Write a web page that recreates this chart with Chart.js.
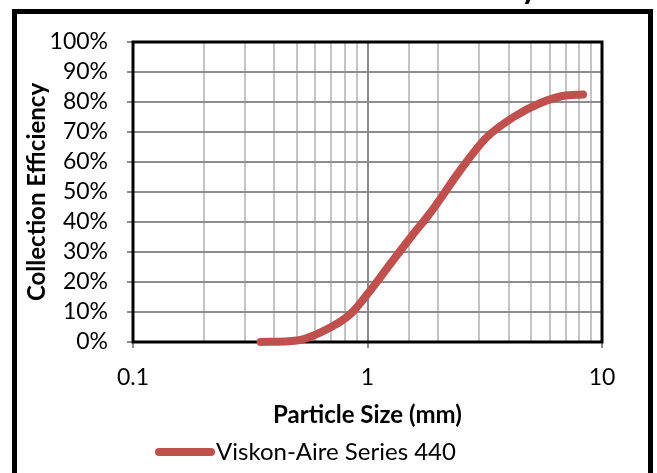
<!DOCTYPE html>
<html>
<head>
<meta charset="utf-8">
<script src="https://cdn.jsdelivr.net/npm/chart.js@4.4.1/dist/chart.umd.min.js"></script>
<style>
  html, body { margin: 0; padding: 0; background: #fff; overflow: hidden; }
  #wrap { position: relative; width: 657px; height: 473px; }
  #frame {
    position: absolute; left: 12px; top: 9px; width: 641px; height: 520px;
    box-sizing: border-box; border: 5px solid #000; pointer-events: none;
  }
</style>
</head>
<body>
<div id="wrap">
  <canvas id="chart" width="657" height="473"></canvas>
  <div id="frame"></div>
</div>
<script>
// --- data ---
const sizes = [0.35, 0.5, 0.7, 0.85, 1.0, 1.25, 1.55, 1.85, 2.5, 3.2, 4.2, 5.4, 6.8, 8.3];
const efficiency = [0, 0.5, 5, 9.5, 16, 26, 35.5, 43, 57.5, 68, 75, 79.5, 82, 82.5];
const seriesLabel = 'Viskon-Aire Series 440';
const chartTitle = 'Collection Efficiency';
const xTitle = 'Particle Size (mm)';
const yTitle = 'Collection Efficiency';

const FONT = 'Lato, "Open Sans", sans-serif';
const RED = '#c0504d';

const isDecade = (v) => Math.abs(Math.log10(v) - Math.round(Math.log10(v))) < 1e-6;

// --- frame, cut-off title, legend ---
const decorPlugin = {
  id: 'decor',
  beforeDatasetsDraw(chart) {
    const { ctx, chartArea: a } = chart;
    ctx.save();
    ctx.strokeStyle = '#000';
    ctx.lineWidth = 3;
    ctx.strokeRect(a.left, a.top, a.right - a.left, a.bottom - a.top);
    ctx.restore();
  },
  afterDraw(chart) {
    const { ctx } = chart;
    ctx.save();
    // title sits mostly above the visible area
    ctx.fillStyle = '#000';
    ctx.font = 'bold 32px ' + FONT;
    ctx.textAlign = 'right';
    ctx.textBaseline = 'alphabetic';
    ctx.fillText(chartTitle, 538, -1);

    // legend
    const ly = 452;
    ctx.strokeStyle = RED;
    ctx.lineWidth = 8;
    ctx.lineCap = 'round';
    ctx.beginPath();
    ctx.moveTo(159, ly);
    ctx.lineTo(211, ly);
    ctx.stroke();
    ctx.font = '24px ' + FONT;
    ctx.textAlign = 'left';
    ctx.textBaseline = 'middle';
    ctx.fillText(seriesLabel, 216, ly);
    ctx.restore();
  }
};

new Chart(document.getElementById('chart'), {
  type: 'scatter',
  data: {
    datasets: [{
      label: seriesLabel,
      data: sizes.map((x, i) => ({ x, y: efficiency[i] })),
      showLine: true,
      borderColor: RED,
      backgroundColor: RED,
      borderWidth: 8,
      borderCapStyle: 'round',
      borderJoinStyle: 'round',
      cubicInterpolationMode: 'monotone',
      pointRadius: 0,
      clip: false
    }]
  },
  options: {
    responsive: false,
    animation: false,
    layout: { padding: { left: 0, right: 55, top: 42, bottom: 41 } },
    plugins: {
      legend: { display: false },
      tooltip: { enabled: false }
    },
    scales: {
      x: {
        type: 'logarithmic',
        min: 0.1,
        max: 10,
        afterFit: (s) => { s.height = 90; },
        border: { display: false },
        grid: {
          color: (c) => (c.tick && isDecade(c.tick.value) ? '#8c8c8c' : '#c4c4c4'),
          lineWidth: 2,
          tickLength: 6,
          tickColor: (c) => (c.tick && isDecade(c.tick.value) ? '#8c8c8c' : 'rgba(0,0,0,0)')
        },
        ticks: {
          autoSkip: false,
          maxRotation: 0,
          padding: 16,
          color: '#000',
          font: { family: FONT, size: 23 },
          callback: (v) => (isDecade(v) ? String(Number(v)) : '')
        },
        title: {
          display: true,
          text: xTitle,
          color: '#000',
          font: { family: FONT, size: 24, weight: 'bold' },
          padding: { top: 0, bottom: 2 }
        }
      },
      y: {
        min: 0,
        max: 100,
        afterFit: (s) => { s.width = 133; },
        border: { display: false },
        grid: {
          color: '#8c8c8c',
          lineWidth: 2,
          tickLength: 6,
          tickColor: '#8c8c8c'
        },
        ticks: {
          stepSize: 10,
          autoSkip: false,
          padding: 19,
          color: '#000',
          font: { family: FONT, size: 23 },
          callback: (v) => v + '%'
        },
        title: {
          display: true,
          text: yTitle,
          color: '#000',
          font: { family: FONT, size: 24, weight: 'bold' },
          padding: { top: 23, bottom: 0 }
        }
      }
    }
  },
  plugins: [decorPlugin]
});
</script>
</body>
</html>
